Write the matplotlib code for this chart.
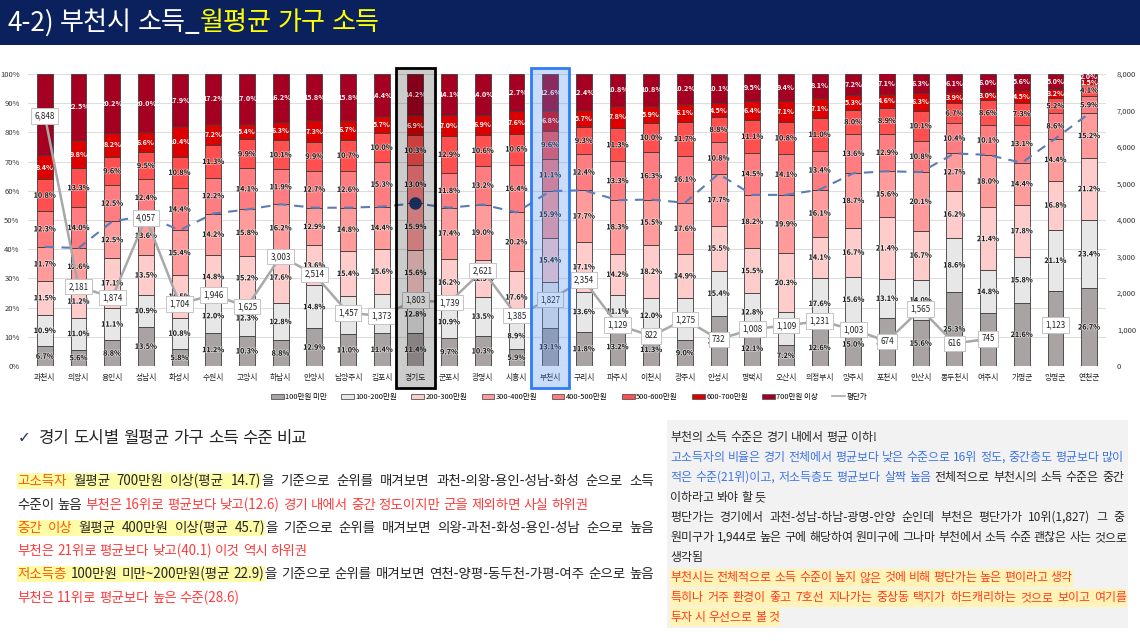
import matplotlib
matplotlib.use("Agg")
import matplotlib.pyplot as plt
import numpy as np
from matplotlib.patches import Rectangle, Patch
from matplotlib.lines import Line2D
import matplotlib.transforms as mtransforms
import matplotlib.patheffects as pe

plt.rcParams['font.family'] = ['Noto Sans CJK KR', 'DejaVu Sans']

# ---------------- data ----------------
cities = ['과천시', '의왕시', '용인시', '성남시', '화성시', '수원시', '고양시', '하남시',
          '안양시', '남양주시', '김포시', '경기도', '군포시', '광명시', '시흥시', '부천시',
          '구리시', '파주시', '이천시', '광주시', '안성시', '평택시', '오산시', '의정부시',
          '양주시', '포천시', '안산시', '동두천시', '여주시', '가평군', '양평군', '연천군']

seg_names = ['100만원 미만', '100-200만원', '200-300만원', '300-400만원',
             '400-500만원', '500-600만원', '600-700만원', '700만원 이상']

lt100 = [6.7, 5.6, 8.8, 13.5, 5.8, 11.2, 10.3, 8.8, 12.9, 11.0, 11.4, 11.4, 9.7, 10.3, 5.9, 13.1,
         11.8, 13.2, 11.3, 9.0, 17.2, 12.1, 7.2, 12.6, 15.0, 16.6, 15.6, 25.3, 18.1, 21.6, 25.6, 26.7]
s100_200 = [10.9, 11.0, 11.1, 10.9, 10.8, 12.0, 12.3, 12.8, 14.8, 13.0, 13.2, 12.8, 10.9, 13.5, 8.9, 15.5,
            13.6, 11.1, 12.0, 14.4, 15.4, 12.8, 11.2, 17.6, 15.6, 13.1, 14.0, 18.6, 14.8, 15.8, 21.1, 23.4]
s200_300 = [11.5, 11.2, 17.1, 13.5, 14.5, 14.8, 15.2, 17.6, 13.6, 15.4, 15.6, 15.6, 16.2, 12.5, 17.6, 15.4,
            17.1, 14.2, 18.2, 14.9, 15.5, 15.5, 20.3, 14.1, 16.7, 21.4, 16.7, 16.2, 21.4, 17.8, 16.8, 21.2]
s300_400 = [11.7, 12.6, 12.5, 13.6, 15.4, 14.2, 15.8, 16.2, 12.9, 14.8, 14.4, 15.9, 17.4, 19.0, 20.2, 15.9,
            17.7, 18.3, 15.5, 17.6, 17.7, 18.2, 19.9, 16.1, 18.7, 15.6, 20.1, 12.7, 18.0, 14.4, 14.4, 15.2]
s400_500 = [12.3, 14.0, 12.5, 12.4, 14.4, 12.2, 14.1, 11.9, 12.7, 12.6, 15.3, 13.0, 11.8, 13.2, 16.4, 11.1,
            12.4, 13.3, 16.3, 16.1, 10.8, 14.5, 14.1, 13.4, 13.6, 12.9, 10.8, 10.4, 10.1, 13.1, 8.6, 5.9]
s500_600 = [10.8, 13.3, 9.6, 9.5, 10.8, 11.3, 9.9, 10.1, 9.9, 10.7, 10.0, 10.3, 12.9, 10.6, 10.6, 9.6,
            9.3, 11.3, 10.0, 11.7, 8.8, 11.1, 10.8, 11.0, 8.0, 8.9, 10.1, 6.7, 8.6, 7.3, 5.2, 4.1]
s600_700 = [8.4, 9.8, 8.2, 6.6, 10.4, 7.2, 5.4, 6.3, 7.3, 6.7, 5.7, 6.9, 7.0, 6.9, 7.6, 6.8,
            5.7, 7.8, 5.9, 6.1, 4.5, 6.4, 7.1, 7.1, 5.3, 4.6, 6.3, 3.9, 3.0, 4.5, 3.2, 1.5]
s700 = [27.7, 22.5, 20.2, 20.0, 17.9, 17.2, 17.0, 16.2, 15.8, 15.8, 14.4, 14.2, 14.1, 14.0, 12.7, 12.6,
        12.4, 10.8, 10.8, 10.2, 10.1, 9.5, 9.4, 8.1, 7.2, 7.1, 6.3, 6.1, 6.0, 5.6, 5.0, 2.0]

price = [6848, 2181, 1874, 4057, 1704, 1946, 1625, 3003, 2514, 1457, 1373, 1803, 1739, 2621, 1385, 1827,
         2354, 1129, 822, 1275, 732, 1008, 1109, 1231, 1003, 674, 1565, 616, 745, np.nan, 1123, np.nan]

y_ticks = [0, 10, 20, 30, 40, 50, 60, 70, 80, 90, 100]
y2_ticks = [0, 1000, 2000, 3000, 4000, 5000, 6000, 7000, 8000]

seg_colors = ['#aaa3a3', '#e7e7e7', '#ffcccc', '#ff9b9b', '#ff7c80', '#ff4f4f', '#dd0000', '#a50021']
seg_text = ['#1a1a1a'] * 6 + ['white', 'white']

W, H = 1140, 641
fig = plt.figure(figsize=(W / 100, H / 100), dpi=100)

# ---------------- header ----------------
fig.add_artist(Rectangle((0, 1 - 45 / H), 1, 45 / H, transform=fig.transFigure,
                         fc='#0b215e', ec='none', zorder=1))

# ---------------- chart ----------------
ax_l, ax_r, ax_t, ax_b = 28, 1106, 74, 366
ax = fig.add_axes([ax_l / W, 1 - ax_b / H, (ax_r - ax_l) / W, (ax_b - ax_t) / H])
x = np.arange(len(cities))
segs = [lt100, s100_200, s200_300, s300_400, s400_500, s500_600, s600_700, s700]
bottom = np.zeros(len(cities))
for k, vals in enumerate(segs):
    v = np.array(vals)
    ax.bar(x, v, bottom=bottom, width=0.47, color=seg_colors[k], edgecolor='#3c3c3c',
           linewidth=0.6, zorder=2)
    for i in range(len(cities)):
        t = ax.text(x[i], bottom[i] + v[i] / 2, f"{v[i]:.1f}%", ha='center', va='center',
                    fontsize=5.2, color=seg_text[k], zorder=2.5, fontweight='bold')
        if seg_text[k] != 'white':
            t.set_path_effects([pe.withStroke(linewidth=1.0, foreground='white', alpha=0.6)])
    bottom += v

cum400 = np.array(lt100) + np.array(s100_200) + np.array(s200_300) + np.array(s300_400)
ax.plot(x, cum400, ls=(0, (4.5, 3.5)), color='#5b7cb6', lw=1.5, zorder=3)
gi = cities.index('경기도')
bi = cities.index('부천시')
ax.plot([x[gi]], [cum400[gi]], 'o', ms=8, color='#1f3a6e', zorder=3.2)

ax.set_xlim(-0.5, len(cities) - 0.5)
ax.set_ylim(0, 100)
ax.set_yticks(y_ticks)
ax.set_yticklabels([f"{v}%" for v in y_ticks], fontsize=5.5, color='#333333')
ax.set_xticks(x)
ax.set_xticklabels(cities, fontsize=5.6, color='#222222')
ax.tick_params(axis='both', length=0)
ax.tick_params(axis='x', pad=6)
ax.tick_params(axis='y', pad=6)
ax.grid(axis='y', color='#dedede', lw=0.8, zorder=0)
ax.set_axisbelow(True)
for s in ax.spines.values():
    s.set_visible(False)

ax2 = ax.twinx()
ax2.set_ylim(0, 8000)
ax2.plot(x, price, color='#a8a8a8', lw=1.8, zorder=4)
for i, p in enumerate(price):
    if not np.isnan(p):
        ax2.text(x[i], p, f"{p:,.0f}", ha='center', va='center', fontsize=5.8, color='#222222',
                 zorder=6, bbox=dict(boxstyle='square,pad=0.4', fc='white', ec='#c4c4c4', lw=0.7))
ax2.set_yticks(y2_ticks)
ax2.set_yticklabels([f"{v:,}" for v in y2_ticks], fontsize=5.5, color='#333333')
ax2.tick_params(axis='y', length=0, pad=8)
for s in ax2.spines.values():
    s.set_visible(False)

# highlight overlays
blend = mtransforms.blended_transform_factory(ax.transData, fig.transFigure)
fig.add_artist(Rectangle((x[gi] - 0.57, 1 - 388 / H), 1.14, (388 - 68) / H, transform=blend,
                         fc=(0, 0, 0, 0.2), ec='black', lw=2, zorder=10))
fig.add_artist(Rectangle((x[bi] - 0.57, 1 - 388 / H), 1.14, (388 - 68) / H, transform=blend,
                         fc=(0.30, 0.56, 0.94, 0.3), ec='#2f7df6', lw=2, zorder=10))

# legend
handles = [Patch(fc=c, ec='#555555', lw=0.6) for c in seg_colors]
handles.append(Line2D([0], [0], color='#a8a8a8', lw=1.2))
fig.legend(handles, seg_names + ['평단가'], loc='center', bbox_to_anchor=(569 / W, 1 - 397 / H),
           ncol=9, frameon=False, fontsize=5.4, handlelength=1.7, handleheight=0.6,
           columnspacing=1.9, handletextpad=0.2)

# ---------------- text ----------------
renderer = fig.canvas.get_renderer()


def measure(s, size, weight='normal'):
    t = fig.text(0, 0, s, fontsize=size, weight=weight)
    w = t.get_window_extent(renderer).width
    t.remove()
    return w


def build_words(segments):
    words = [[]]
    for text, color, hl in segments:
        parts = text.split(' ')
        for k, p in enumerate(parts):
            if k > 0:
                words.append([])
            if p:
                words[-1].append((p, color, hl))
    return [w for w in words if w]


def draw_line(x0, yc, segments, size, justify_to=None, hl_color='#fffca8', hl_h=16, weight='normal'):
    words = build_words(segments)
    widths = [[measure(t, size, weight) for (t, c, h) in w] for w in words]
    wsum = [sum(ws) for ws in widths]
    sp = measure('가 가', size, weight) - measure('가가', size, weight)
    if justify_to is not None and len(words) > 1:
        gap = max(sp, (justify_to - x0 - sum(wsum)) / (len(words) - 1))
    else:
        gap = sp
    xx = x0
    spans = []
    cur = None
    for wi, w in enumerate(words):
        for (t, c, h), tw in zip(w, widths[wi]):
            fig.text(xx / W, 1 - yc / H, t, color=c, fontsize=size, weight=weight,
                     ha='left', va='center', zorder=4)
            if h:
                if cur is None:
                    cur = [xx, xx + tw]
                else:
                    cur[1] = xx + tw
            else:
                if cur is not None:
                    spans.append(cur)
                    cur = None
            xx += tw
        xx += gap
    if cur is not None:
        spans.append(cur)
    for xs, xe in spans:
        fig.add_artist(Rectangle((xs / W, 1 - (yc + hl_h / 2) / H), (xe - xs) / W, hl_h / H,
                                 transform=fig.transFigure, fc=hl_color, ec='none', zorder=3))


# title
draw_line(7, 23, [('4-2) 부천시 소득_', 'white', False), ('월평균 가구 소득', '#ffff00', False)],
          18.8, weight='medium')

K = '#262626'
OR = '#ff5a00'
RD = '#ff3c3c'
BL = '#3f74e6'
RR = '#ff3b1f'

fig.text(18 / W, 1 - 438 / H, '✓', fontsize=11, color='#1f2d50', ha='left', va='center',
         family=['DejaVu Sans'])
draw_line(39, 438, [('경기 도시별 월평균 가구 소득 수준 비교', K, False)], 12)

fs = 9.7
draw_line(17, 481, [('고소득자 ', OR, True), ('월평균 700만원 이상(평균 14.7)', K, True),
                    ('을 기준으로 순위를 매겨보면 과천-의왕-용인-성남-화성 순으로 소득', K, False)],
          fs, justify_to=654)
draw_line(17, 505, [('수준이 높음 ', K, False),
                    ('부천은 16위로 평균보다 낮고(12.6) 경기 내에서 중간 정도이지만 군을 제외하면 사실 하위권', RD, False)],
          fs)
draw_line(17, 528, [('중간 이상 ', OR, True), ('월평균 400만원 이상(평균 45.7)', K, True),
                    ('을 기준으로 순위를 매겨보면 의왕-과천-화성-용인-성남 순으로 높음', K, False)],
          fs, justify_to=654)
draw_line(17, 551, [('부천은 21위로 평균보다 낮고(40.1) 이것 역시 하위권', RD, False)], fs)
draw_line(17, 574, [('저소득층 ', OR, True), ('100만원 미만~200만원(평균 22.9)', K, True),
                    ('을 기준으로 순위를 매겨보면 연천-양평-동두천-가평-여주 순으로 높음', K, False)],
          fs, justify_to=654)
draw_line(17, 598, [('부천은 11위로 평균보다 높은 수준(28.6)', RD, False)], fs)

# right box
fig.add_artist(Rectangle((667 / W, 1 - 628 / H), (1128 - 667) / W, (628 - 420) / H,
                         transform=fig.transFigure, fc='#f2f2f2', ec='none', zorder=1))
rs = 8.6
rx = 670
rj = 1124
draw_line(rx, 437, [('부천의 소득 수준은 경기 내에서 평균 이하!', K, False)], rs)
draw_line(rx, 457.5, [('고소득자의 비율은 경기 전체에서 평균보다 낮은 수준으로 16위 정도, 중간층도 평균보다 많이', BL, False)],
          rs, justify_to=rj)
draw_line(rx, 477.5, [('적은 수준(21위)이고, 저소득층도 평균보다 살짝 높음 ', BL, False),
                      ('전체적으로 부천시의 소득 수준은 중간', K, False)], rs, justify_to=rj)
draw_line(rx, 497.5, [('이하라고 봐야 할 듯', K, False)], rs)
draw_line(rx, 517.5, [('평단가는 경기에서 과천-성남-하남-광명-안양 순인데 부천은 평단가가 10위(1,827) 그 중', K, False)],
          rs, justify_to=rj)
draw_line(rx, 537.5, [('원미구가 1,944로 높은 구에 해당하여 원미구에 그나마 부천에서 소득 수준 괜찮은 사는 것으로', K, False)],
          rs, justify_to=rj)
draw_line(rx, 557.5, [('생각됨', K, False)], rs)
draw_line(rx, 578, [('부천시는 전체적으로 소득 수준이 높지 않은 것에 비해 평단가는 높은 편이라고 생각', RR, True)],
          rs, hl_color='#fff4b5', hl_h=18)
draw_line(rx, 598, [('특히나 거주 환경이 좋고 7호선 지나가는 중상동 택지가 하드캐리하는 것으로 보이고 여기를', RR, True)],
          rs, justify_to=1127, hl_color='#fff4b5', hl_h=18)
draw_line(rx, 617, [('투자 시 우선으로 볼 것', RR, True)], rs, hl_color='#fff4b5', hl_h=18)

fig.savefig('out.png', dpi=100)
